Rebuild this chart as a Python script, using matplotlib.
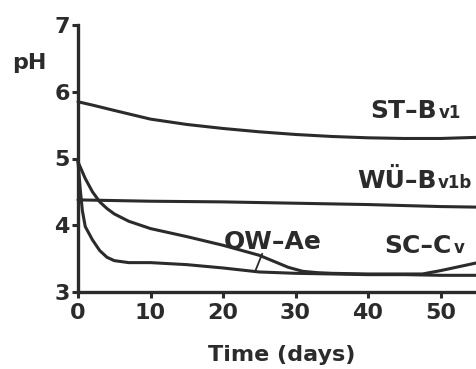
import matplotlib
matplotlib.use("Agg")
import matplotlib.pyplot as plt

# ---- data ----
st_days = [0, 2, 5, 10, 15, 20, 25, 30, 35, 40, 45, 50, 56]
st_ph = [5.85, 5.80, 5.72, 5.59, 5.51, 5.45, 5.40, 5.36, 5.33, 5.31, 5.30, 5.30, 5.32]

wu_days = [0, 10, 20, 30, 40, 50, 56]
wu_ph = [4.38, 4.36, 4.35, 4.33, 4.31, 4.28, 4.27]

ow_days = [0, 0.3, 0.6, 1, 2, 3, 4, 5, 7, 10, 15, 20, 25, 30, 35, 40, 45, 50, 56]
ow_ph = [4.95, 4.55, 4.22, 3.98, 3.78, 3.62, 3.52, 3.47, 3.44, 3.44, 3.41, 3.36, 3.30, 3.28, 3.27, 3.26, 3.26, 3.25, 3.25]

sc_days = [0, 1, 2, 3, 4, 5, 7, 10, 15, 20, 25, 27, 29, 31, 33, 35, 40, 45, 47.5, 50, 53, 56]
sc_ph = [4.95, 4.70, 4.50, 4.35, 4.25, 4.17, 4.06, 3.95, 3.83, 3.70, 3.55, 3.46, 3.37, 3.31, 3.29, 3.28, 3.27, 3.27, 3.27, 3.32, 3.39, 3.46]

x_ticks = [0, 10, 20, 30, 40, 50]
y_ticks = [3, 4, 5, 6, 7]

FONT = "DejaVu Sans"
INK = "#2b2b2b"
FS = 16
FS_LAB = 18
FS_SUB = 12

fig = plt.figure(figsize=(4.76, 3.69), dpi=100)
W, H = 476, 369
x0, y0 = 78, 292          # pixel position of (0, 3)
px_per_day = 7.25
px_per_ph = 66.75
xmax = 60
ax = fig.add_axes([x0 / W, (H - y0) / H, xmax * px_per_day / W, 4 * px_per_ph / H])
ax.set_xlim(0, xmax)
ax.set_ylim(3, 7)

lw = 2.2
for d, v in [(st_days, st_ph), (wu_days, wu_ph), (ow_days, ow_ph), (sc_days, sc_ph)]:
    ax.plot(d, v, color=INK, lw=lw, solid_capstyle="round", solid_joinstyle="round", clip_on=False)

for s in ["top", "right"]:
    ax.spines[s].set_visible(False)
for s in ["left", "bottom"]:
    ax.spines[s].set_linewidth(2.4)
    ax.spines[s].set_color(INK)

ax.set_xticks(x_ticks)
ax.set_yticks(y_ticks)
ax.tick_params(direction="out", length=4, width=2.2, color=INK, labelsize=FS, labelcolor=INK, pad=2)
ax.tick_params(axis="x", pad=4)
for lab in ax.get_xticklabels() + ax.get_yticklabels():
    lab.set_fontfamily(FONT)
    lab.set_fontweight("bold")

fig.canvas.draw()
renderer = fig.canvas.get_renderer()

# curve labels: main part plus smaller trailing part on the same baseline
def label(x, y, big, small):
    t = ax.text(x, y, big, fontsize=FS_LAB, fontfamily=FONT, fontweight="bold", color=INK,
                ha="left", va="baseline")
    if small:
        bb = t.get_window_extent(renderer)
        xr = ax.transData.inverted().transform((bb.x1 + 1.5, 0))[0]
        ax.text(xr, y, small, fontsize=FS_SUB, fontfamily=FONT, fontweight="bold", color=INK,
                ha="left", va="baseline")

label(40.3, 5.61, "ST–B", "v1")
label(38.5, 4.56, "WÜ–B", "v1b")
label(20.1, 3.645, "OW–Ae", "")
label(42.3, 3.585, "SC–C", "v")

# leader line for OW-Ae
ax.plot([25.4, 24.4], [3.57, 3.30], color=INK, lw=1.3)

fig.text(12 / W, (H - 69) / H, "pH", fontsize=FS, fontfamily=FONT, fontweight="bold",
         color=INK, ha="left", va="baseline")
fig.text(282 / W, (H - 361) / H, "Time (days)", fontsize=FS, fontfamily=FONT,
         fontweight="bold", color=INK, ha="center", va="baseline")

fig.savefig("out.png", dpi=100)
